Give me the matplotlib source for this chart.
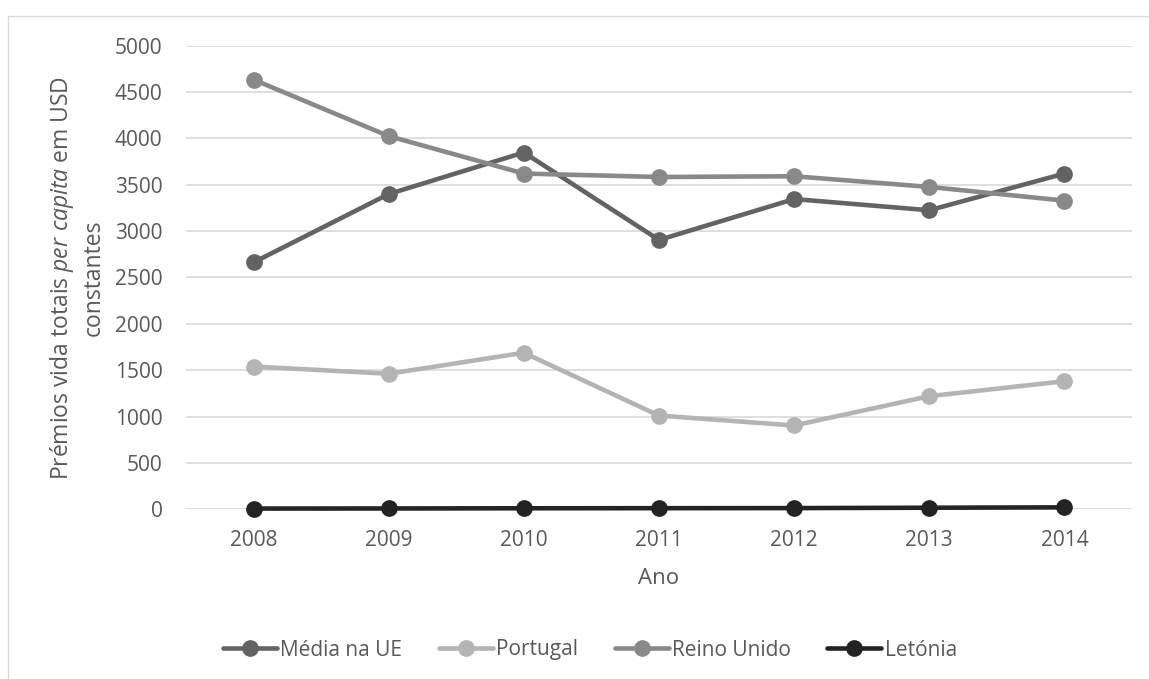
import matplotlib
matplotlib.use("Agg")
import matplotlib.pyplot as plt
from matplotlib.patches import Rectangle

plt.rcParams['font.family'] = ['Open Sans', 'DejaVu Sans']

# Data
anos = ["2008", "2009", "2010", "2011", "2012", "2013", "2014"]
media_ue = [2663, 3400, 3848, 2905, 3346, 3225, 3621]
portugal = [1540, 1462, 1688, 1011, 904, 1220, 1381]
reino_unido = [4634, 4025, 3621, 3584, 3592, 3477, 3329]
letonia = [8, 9, 11, 12, 13, 17, 21]
yticks = [0, 500, 1000, 1500, 2000, 2500, 3000, 3500, 4000, 4500, 5000]

series = [
    ("Média na UE", media_ue, "#636363"),
    ("Portugal", portugal, "#b4b4b4"),
    ("Reino Unido", reino_unido, "#898989"),
    ("Letónia", letonia, "#232323"),
]

W, H = 1149, 679
fig = plt.figure(figsize=(W / 100, H / 100), dpi=100)

# chart-area frame
fig.patches.append(Rectangle((8 / W, -0.05), 1.1, (H - 16) / H + 0.05,
                             transform=fig.transFigure, fill=False,
                             edgecolor="#d9d9d9", linewidth=1.0))

left, right, top, bottom = 186, 1132, 45.7, 509.3
ax = fig.add_axes([left / W, (H - bottom) / H, (right - left) / W, (bottom - top) / H])

x = list(range(len(anos)))
for name, vals, col in series:
    ax.plot(x, vals, color=col, linewidth=3.3, marker='o', markersize=11,
            label=name, solid_capstyle='round', clip_on=False, zorder=3)

ax.set_xlim(-0.5, len(anos) - 0.5)
ax.set_ylim(0, 5000)
ax.set_yticks(yticks)
ax.set_xticks(x)
ax.set_xticklabels(anos)
ax.yaxis.grid(True, color="#d9d9d9", linewidth=1.2)
ax.set_axisbelow(True)
for s in ax.spines.values():
    s.set_visible(False)
ax.tick_params(axis='both', length=0, labelsize=15, labelcolor="#595959")
ax.tick_params(axis='y', pad=17)
ax.tick_params(axis='x', pad=15)

# axis titles
fig.text((left + right) / 2 / W, 1 - 578 / H, "Ano", ha='center', va='center',
         fontsize=16, color="#595959")

plt.rcParams['mathtext.fontset'] = 'custom'
plt.rcParams['mathtext.rm'] = 'Open Sans'
plt.rcParams['mathtext.it'] = 'Open Sans:italic'
ymid = 1 - (top + bottom) / 2 / H
fig.text(62 / W, ymid, r"Prémios vida totais $\mathit{per\ capita}$ em USD",
         rotation=90, ha='center', va='center', fontsize=16.5, color="#595959")
fig.text(94 / W, ymid, "constantes", rotation=90, ha='center', va='center',
         fontsize=16.5, color="#595959")

leg = fig.legend(loc='center', bbox_to_anchor=(590 / W, 1 - 650 / H), ncol=4,
                 frameon=False, fontsize=15, handlelength=2.6, handletextpad=0.15,
                 columnspacing=1.75, labelcolor="#595959", markerscale=1.0)

fig.savefig("out.png", dpi=100, facecolor="white")
